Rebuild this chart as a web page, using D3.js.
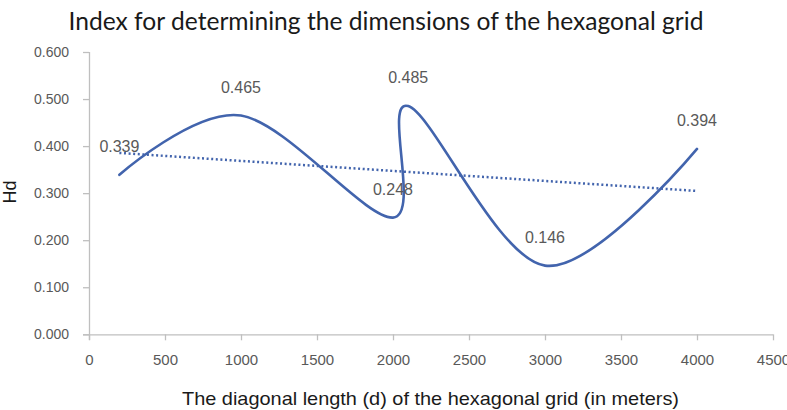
<!DOCTYPE html>
<html>
<head>
<meta charset="utf-8">
<script src="https://cdn.jsdelivr.net/npm/d3@7"></script>
<style>
  body { margin: 0; background: #fff; }
  svg { display: block; }
</style>
</head>
<body>
<div id="chart"></div>
<script>
// data
var distances = [200, 1000, 2000, 2100, 3000, 4000];
var hdValues = [0.339, 0.465, 0.248, 0.485, 0.146, 0.394];
var xTicks = [0, 500, 1000, 1500, 2000, 2500, 3000, 3500, 4000, 4500];
var yTicks = [0, 0.1, 0.2, 0.3, 0.4, 0.5, 0.6];

var width = 787, height = 410;
var lineColor = "#4264AD";
var textColor = "#595959";
var axisColor = "#BFBFBF";

var svg = d3.select("#chart").append("svg")
	.attr("width", width)
	.attr("height", height);

var x = d3.scaleLinear().domain([0, 4500]).range([89, 773]);
var y = d3.scaleLinear().domain([0, 0.6]).range([334.3, 52]);

var points = distances.map(function(d, i){
	return { x : d, y : hdValues[i] };
});

// title
svg.append("text")
	.attr("x", 386)
	.attr("y", 30)
	.attr("text-anchor", "middle")
	.attr("textLength", 635)
	.attr("lengthAdjust", "spacingAndGlyphs")
	.style("font-family", "Lato, 'Open Sans', sans-serif")
	.style("font-size", "25px")
	.style("fill", "#1a1a1a")
	.text("Index for determining the dimensions of the hexagonal grid");

// y axis
var yAxis = svg.append("g")
	.attr("transform", "translate(89,0)")
	.call(d3.axisLeft(y).tickValues(yTicks).tickFormat(d3.format(".3f")).tickSize(6).tickPadding(14));

// x axis
var xAxis = svg.append("g")
	.attr("transform", "translate(0,334.3)")
	.call(d3.axisBottom(x).tickValues(xTicks).tickFormat(d3.format("d")).tickSize(6).tickPadding(14));

[yAxis, xAxis].forEach(function(ax){
	ax.select(".domain").attr("stroke", axisColor).attr("stroke-width", 1.3);
	ax.selectAll(".tick line").attr("stroke", axisColor).attr("stroke-width", 1.3);
	ax.selectAll(".tick text")
		.style("font-family", "'Liberation Sans', Arial, sans-serif")
		.style("font-size", "14px")
		.style("fill", textColor);
});
xAxis.selectAll(".tick text").style("font-size", "15px");
// domain without outer end ticks
yAxis.select(".domain").attr("d", "M0.5,52V340");
xAxis.select(".domain").attr("d", "M83,0.5H773");

// axis titles
svg.append("text")
	.attr("transform", "translate(16,192) rotate(-90)")
	.attr("text-anchor", "middle")
	.style("font-family", "'Liberation Sans', Arial, sans-serif")
	.style("font-size", "18px")
	.style("fill", "#1a1a1a")
	.text("Hd");

svg.append("text")
	.attr("x", 430.5)
	.attr("y", 405)
	.attr("text-anchor", "middle")
	.attr("textLength", 497)
	.attr("lengthAdjust", "spacingAndGlyphs")
	.style("font-family", "'Liberation Sans', Arial, sans-serif")
	.style("font-size", "18.6px")
	.style("fill", "#1a1a1a")
	.text("The diagonal length (d) of the hexagonal grid (in meters)");

// linear trend line (least squares)
var mx = d3.mean(distances), my = d3.mean(hdValues);
var sxy = d3.sum(distances, function(d, i){ return (d - mx) * (hdValues[i] - my); });
var sxx = d3.sum(distances, function(d){ return (d - mx) * (d - mx); });
var slope = sxy / sxx;
var intercept = my - slope * mx;
var xExt = d3.extent(distances);

svg.append("line")
	.attr("x1", x(xExt[0]))
	.attr("y1", y(intercept + slope * xExt[0]))
	.attr("x2", x(xExt[1]))
	.attr("y2", y(intercept + slope * xExt[1]))
	.attr("stroke", lineColor)
	.attr("stroke-width", 2.5)
	.attr("stroke-dasharray", "2,2.6");

// smoothed series line
var line = d3.line()
	.x(function(d){ return x(d.x); })
	.y(function(d){ return y(d.y); })
	.curve(d3.curveCatmullRom.alpha(0));

svg.append("path")
	.datum(points)
	.attr("d", line)
	.attr("fill", "none")
	.attr("stroke", lineColor)
	.attr("stroke-width", 2.6)
	.attr("stroke-linecap", "round");

// data labels
svg.selectAll(".lbl")
	.data(points)
	.enter().append("text")
	.attr("class", "lbl")
	.attr("x", function(d){ return x(d.x); })
	.attr("y", function(d){ return y(d.y) - 23; })
	.attr("text-anchor", "middle")
	.style("font-family", "'Liberation Sans', Arial, sans-serif")
	.style("font-size", "16px")
	.style("fill", textColor)
	.text(function(d){ return d3.format(".3f")(d.y); });
</script>
</body>
</html>
